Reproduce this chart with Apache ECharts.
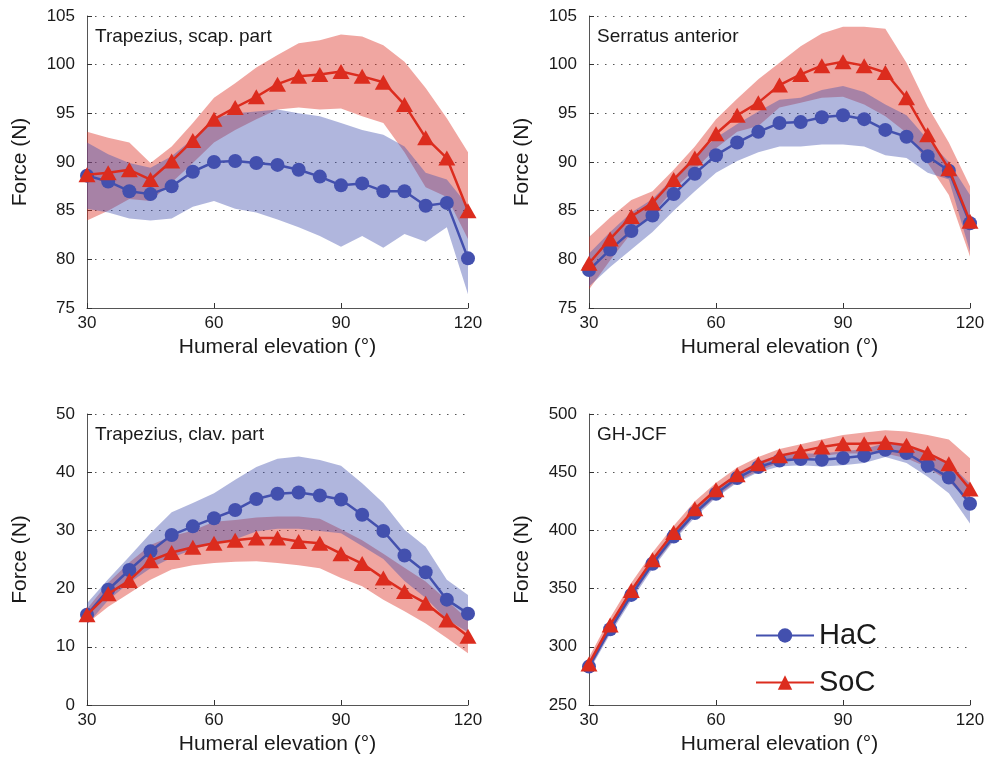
<!DOCTYPE html>
<html>
<head>
<meta charset="utf-8">
<script src="https://cdn.jsdelivr.net/npm/echarts@6/dist/echarts.min.js"></script>
<style>
  html, body { margin: 0; padding: 0; background: #fff; }
  #chart { width: 989px; height: 766px; }
</style>
</head>
<body>
<div id="chart"></div>
<script>
// humeral elevation, degrees
const elev = [30, 35, 40, 45, 50, 55, 60, 65, 70, 75, 80, 85, 90, 95, 100, 105, 110, 115, 120];

// Trapezius, scap. part
const scapHaC   = [88.6, 88.0, 87.0, 86.7, 87.5, 89.0, 90.0, 90.1, 89.9, 89.7, 89.2, 88.5, 87.6, 87.8, 87.0, 87.0, 85.5, 85.8, 80.1];
const scapHaCLo = [85.2, 84.8, 84.2, 84.0, 84.2, 85.4, 86.0, 85.2, 84.8, 84.1, 83.3, 82.4, 81.3, 82.4, 81.2, 82.6, 81.8, 83.3, 76.4];
const scapHaCHi = [92.0, 90.8, 89.9, 89.4, 90.6, 92.4, 94.5, 95.0, 95.2, 95.4, 95.0, 94.7, 94.0, 93.3, 92.8, 91.6, 88.9, 88.2, 85.5];
const scapSoC   = [88.7, 88.9, 89.2, 88.2, 90.1, 92.2, 94.4, 95.6, 96.7, 98.0, 98.8, 99.0, 99.3, 98.8, 98.2, 95.9, 92.5, 90.4, 85.0];
const scapSoCLo = [84.0, 85.0, 86.2, 86.0, 87.9, 89.9, 92.0, 93.3, 94.4, 95.4, 95.6, 95.4, 95.5, 94.7, 94.0, 91.0, 87.4, 86.4, 82.1];
const scapSoCHi = [93.1, 92.5, 92.0, 89.9, 91.6, 94.0, 96.6, 98.1, 99.7, 101.0, 102.2, 102.5, 103.1, 102.9, 102.0, 100.3, 97.6, 94.5, 91.0];

// Serratus anterior
const serrHaC   = [78.9, 81.0, 82.9, 84.5, 86.7, 88.8, 90.7, 92.0, 93.1, 94.0, 94.1, 94.6, 94.8, 94.4, 93.3, 92.6, 90.6, 89.1, 83.7];
const serrHaCLo = [77.2, 79.2, 81.0, 82.8, 85.0, 87.0, 88.9, 90.1, 91.0, 91.6, 91.6, 91.8, 91.8, 91.6, 90.7, 90.4, 88.9, 88.2, 80.8];
const serrHaCHi = [80.6, 82.8, 84.8, 86.2, 88.4, 90.6, 92.5, 93.9, 95.2, 96.4, 96.6, 97.4, 97.8, 97.2, 95.9, 94.8, 92.3, 90.0, 86.6];
const serrSoC   = [79.6, 82.1, 84.4, 85.8, 88.2, 90.4, 92.9, 94.8, 96.1, 97.9, 99.0, 99.9, 100.3, 99.9, 99.2, 96.6, 92.8, 89.3, 83.9];
const serrSoCLo = [76.9, 79.9, 82.7, 84.6, 87.2, 89.2, 91.4, 93.1, 93.7, 95.6, 96.1, 96.6, 96.7, 95.9, 94.7, 93.0, 89.9, 86.6, 80.3];
const serrSoCHi = [82.3, 84.3, 86.1, 87.0, 89.2, 91.6, 94.4, 96.5, 98.5, 100.2, 101.9, 103.2, 103.9, 103.9, 103.7, 100.2, 95.7, 92.0, 87.5];

// Trapezius, clav. part
const clavHaC   = [15.5, 19.8, 23.2, 26.4, 29.2, 30.7, 32.1, 33.5, 35.4, 36.3, 36.5, 36.0, 35.3, 32.7, 29.9, 25.7, 22.8, 18.1, 15.7];
const clavHaCLo = [13.8, 18.0, 21.0, 23.5, 25.3, 26.7, 27.8, 28.5, 29.8, 30.3, 30.3, 29.9, 29.5, 27.3, 25.1, 21.3, 18.4, 14.7, 12.5];
const clavHaCHi = [17.5, 21.6, 25.5, 29.5, 33.1, 34.7, 36.4, 38.7, 40.9, 42.3, 42.7, 42.1, 41.1, 38.1, 34.7, 30.1, 27.2, 21.5, 18.9];
const clavSoC   = [15.5, 19.1, 21.4, 24.8, 26.2, 27.1, 27.8, 28.3, 28.7, 28.7, 28.1, 27.8, 26.0, 24.3, 21.8, 19.5, 17.5, 14.6, 11.8];
const clavSoCLo = [14.0, 16.9, 19.2, 21.5, 23.3, 24.0, 24.4, 24.6, 24.7, 24.4, 24.0, 23.5, 21.8, 20.4, 18.1, 16.1, 14.0, 11.5, 8.9];
const clavSoCHi = [16.5, 21.0, 24.5, 27.5, 29.0, 30.0, 31.5, 31.8, 32.2, 32.4, 32.4, 32.0, 30.2, 28.3, 26.0, 23.6, 21.2, 18.0, 14.7];

// GH-JCF
const jcfHaC   = [283.0, 315.1, 344.6, 371.3, 394.8, 414.9, 431.5, 445.0, 454.4, 460.1, 461.3, 460.7, 462.2, 464.2, 469.3, 466.5, 455.6, 445.5, 422.9];
const jcfHaCLo = [279, 311, 340, 367, 391, 411, 428, 441, 450, 455, 456, 455, 456, 458, 463, 458, 446, 432, 406];
const jcfHaCHi = [288, 320, 350, 376, 399, 419, 436, 449, 459, 465, 466, 466, 468, 470, 475, 474, 465, 458, 440];
const jcfSoC   = [285.3, 318.8, 348.3, 374.7, 398.2, 418.6, 434.9, 447.8, 457.3, 464.2, 467.9, 471.6, 474.5, 474.5, 475.6, 473.1, 466.5, 457.3, 435.5];
const jcfSoCLo = [280, 313, 342, 369, 392, 413, 429, 442, 451, 458, 461, 464, 466, 466, 466, 462, 454, 442, 424];
const jcfSoCHi = [291, 325, 355, 381, 404, 425, 441, 454, 463, 470, 474, 478, 482, 484, 486, 485, 482, 478, 462];

const blue = '#4350ae';
const red = '#dc2c1e';
const font = '"Liberation Sans", Arial, Helvetica, sans-serif';
const textColor = '#1a1a1a';

// panel layout and y range
const panels = [
  { left: 87,  top: 16,  width: 381, height: 292, min: 75,  max: 105, step: 5,  title: 'Trapezius, scap. part', data: [scapHaC, scapHaCLo, scapHaCHi, scapSoC, scapSoCLo, scapSoCHi] },
  { left: 589, top: 16,  width: 381, height: 292, min: 75,  max: 105, step: 5,  title: 'Serratus anterior',     data: [serrHaC, serrHaCLo, serrHaCHi, serrSoC, serrSoCLo, serrSoCHi] },
  { left: 87,  top: 414, width: 381, height: 291, min: 0,   max: 50,  step: 10, title: 'Trapezius, clav. part', data: [clavHaC, clavHaCLo, clavHaCHi, clavSoC, clavSoCLo, clavSoCHi] },
  { left: 589, top: 414, width: 381, height: 291, min: 250, max: 500, step: 50, title: 'GH-JCF',                data: [jcfHaC, jcfHaCLo, jcfHaCHi, jcfSoC, jcfSoCLo, jcfSoCHi] }
];

function pairs(vals) {
  return elev.map((x, i) => [x, vals[i]]);
}

// shaded band (mean ± SD) as a polygon through the axis scales
function band(idx, lo, hi, color, z) {
  return {
    type: 'custom',
    xAxisIndex: idx,
    yAxisIndex: idx,
    silent: true,
    z: z,
    data: [[elev[0], lo[0]]],
    renderItem: function (params, api) {
      const pts = [];
      for (let i = 0; i < elev.length; i++) pts.push(api.coord([elev[i], hi[i]]));
      for (let i = elev.length - 1; i >= 0; i--) pts.push(api.coord([elev[i], lo[i]]));
      return { type: 'polygon', shape: { points: pts }, style: { fill: color } };
    }
  };
}

const grid = [], xAxis = [], yAxis = [], series = [], graphic = [];
panels.forEach((p, idx) => {
  grid.push({ left: p.left, top: p.top, width: p.width, height: p.height });
  xAxis.push({
    type: 'value', gridIndex: idx, min: 30, max: 120, interval: 30,
    name: 'Humeral elevation (°)', nameLocation: 'middle', nameGap: 29,
    nameTextStyle: { fontFamily: font, fontSize: 21, color: textColor },
    axisLine: { lineStyle: { color: '#555', width: 1 } },
    axisTick: { inside: true, length: 5, lineStyle: { color: '#333' } },
    axisLabel: { fontFamily: font, fontSize: 17, color: textColor, margin: 7 },
    splitLine: { show: false }
  });
  yAxis.push({
    type: 'value', gridIndex: idx, min: p.min, max: p.max, interval: p.step,
    name: 'Force (N)', nameLocation: 'middle', nameGap: 56,
    nameTextStyle: { fontFamily: font, fontSize: 21, color: textColor },
    axisLine: { show: true, lineStyle: { color: '#555', width: 1 } },
    axisTick: { show: true, inside: true, length: 5, lineStyle: { color: '#333' } },
    axisLabel: { fontFamily: font, fontSize: 17, color: textColor, margin: 12 },
    splitLine: { show: true, lineStyle: { color: '#555', width: 1, type: [1.5, 6.5] } }
  });
  const [hac, hacLo, hacHi, soc, socLo, socHi] = p.data;
  series.push(band(idx, socLo, socHi, 'rgba(220,44,30,0.42)', 3));
  series.push(band(idx, hacLo, hacHi, 'rgba(67,80,174,0.42)', 4));
  series.push({
    name: 'HaC', type: 'line', xAxisIndex: idx, yAxisIndex: idx, z: 5,
    data: pairs(hac), symbol: 'circle', symbolSize: 14,
    lineStyle: { color: blue, width: 2.5 }, itemStyle: { color: blue }
  });
  series.push({
    name: 'SoC', type: 'line', xAxisIndex: idx, yAxisIndex: idx, z: 6,
    data: pairs(soc), symbol: 'triangle', symbolSize: [17, 15],
    lineStyle: { color: red, width: 2.5 }, itemStyle: { color: red }
  });
  graphic.push({
    type: 'text', left: p.left + 8, top: p.top + 11,
    style: { text: p.title, fontFamily: font, fontSize: 19, fill: textColor }
  });
});

const chart = echarts.init(document.getElementById('chart'));
chart.setOption({
  animation: false,
  backgroundColor: '#fff',
  grid: grid,
  xAxis: xAxis,
  yAxis: yAxis,
  series: series,
  graphic: graphic,
  legend: {
    data: ['HaC', 'SoC'],
    orient: 'vertical',
    left: 750,
    top: 616,
    itemWidth: 58,
    itemHeight: 18,
    itemGap: 18,
    selectedMode: false,
    textStyle: { fontFamily: font, fontSize: 29, color: textColor }
  }
});
</script>
</body>
</html>
